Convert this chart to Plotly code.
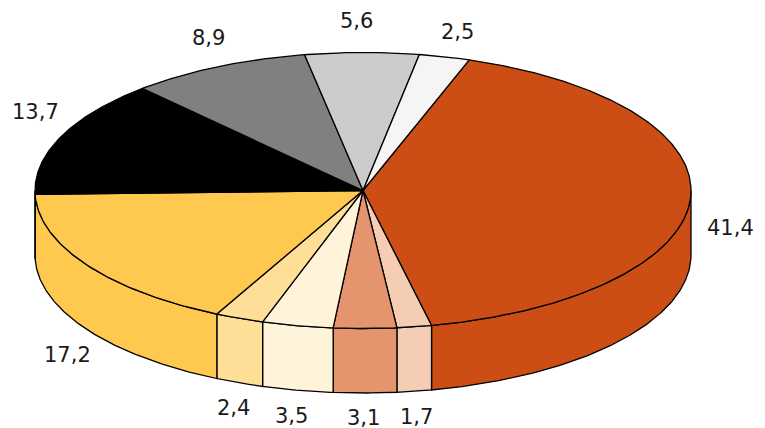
import numpy as np
import plotly.graph_objects as go

labels = ["41,4", "1,7", "3,1", "3,5", "2,4", "17,2", "13,7", "8,9", "5,6", "2,5"]
values = [41.4, 1.7, 3.1, 3.5, 2.4, 17.2, 13.7, 8.9, 5.6, 2.5]
colors = ["#CC4E14", "#F5CCB4", "#E5956E", "#FFF3D9", "#FFDF97", "#FFC94F",
          "#000000", "#808080", "#CCCCCC", "#F5F5F5"]
label_x = [730.5, 416, 363, 291, 233, 67, 35, 208, 356.5, 457]
label_y = [228, 417, 418, 416, 408, 355, 112, 38, 21, 32]

CX, CY, RX, RY, DEPTH = 363.0, 190.5, 328.0, 138.0, 64.5
START = 18.9


def arc(t0, t1, dy=0.0):
    t = np.radians(np.linspace(t0, t1, max(2, int(abs(t1 - t0) * 2) + 1)))
    return CX + RX * np.sin(t), CY - RY * np.cos(t) + dy


edges = START + np.concatenate([[0], np.cumsum(values)]) * 3.6
fig = go.Figure()


def poly(x, y, color):
    fig.add_trace(go.Scatter(
        x=list(x), y=list(y), mode="lines", fill="toself", fillcolor=color,
        line=dict(color="#000000", width=1.3), hoverinfo="skip", showlegend=False))


# side walls (visible front half only)
for i, c in enumerate(colors):
    a, b = max(edges[i], 90), min(edges[i + 1], 270)
    if b > a:
        xt, yt = arc(a, b)
        xb, yb = arc(b, a, DEPTH)
        poly(np.r_[xt, xb, xt[0]], np.r_[yt, yb, yt[0]], c)

# top face
for i, c in enumerate(colors):
    xt, yt = arc(edges[i], edges[i + 1])
    poly(np.r_[CX, xt, CX], np.r_[CY, yt, CY], c)

for t, x, y in zip(labels, label_x, label_y):
    fig.add_annotation(x=x, y=y, text=t, showarrow=False,
                       font=dict(family="DejaVu Sans", size=21, color="#1a1a1a"))

fig.update_layout(
    width=765, height=428, margin=dict(l=0, r=0, t=0, b=0),
    paper_bgcolor="white", plot_bgcolor="white", showlegend=False,
    xaxis=dict(range=[0, 765], visible=False, fixedrange=True),
    yaxis=dict(range=[428, 0], visible=False, fixedrange=True),
)
fig.write_html("out.html", config=dict(displayModeBar=False),
               post_script="document.body.style.margin='0';document.documentElement.style.overflow='hidden';")
